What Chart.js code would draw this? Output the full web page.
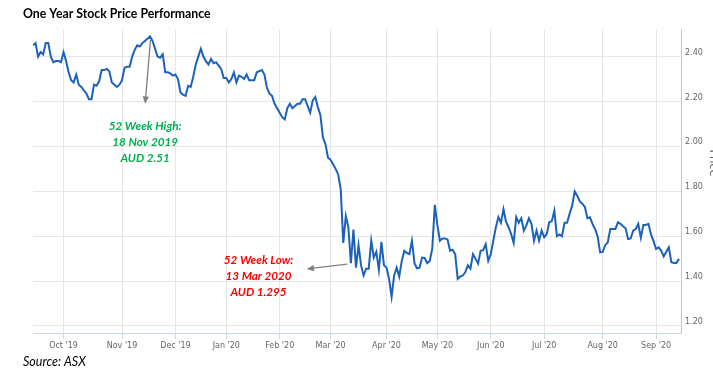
<!DOCTYPE html>
<html lang="en">
<head>
    <meta charset="UTF-8">
    <title>One Year Stock Price Performance</title>
    <script src="https://cdn.jsdelivr.net/npm/chart.js"></script>
    <style>
        body {
            margin: 0;
            background: #ffffff;
        }
        #chart {
            display: block;
        }
    </style>
</head>
<body>
    <canvas id="chart" width="713" height="381"></canvas>

    <script>
        // Daily closing prices (AUD), one per trading day, mid Sep 2019 to mid Sep 2020
        const prices = [
            2.450, 2.460, 2.400, 2.420, 2.410, 2.460, 2.460, 2.400, 2.375, 2.380,
            2.380, 2.375, 2.420, 2.380, 2.330, 2.295, 2.285, 2.320, 2.275, 2.265,
            2.250, 2.235, 2.210, 2.210, 2.275, 2.270, 2.290, 2.340, 2.340, 2.345,
            2.335, 2.285, 2.275, 2.265, 2.275, 2.295, 2.350, 2.355, 2.355, 2.400,
            2.430, 2.450, 2.445, 2.460, 2.470, 2.480, 2.490, 2.470, 2.435, 2.400,
            2.395, 2.410, 2.330, 2.330, 2.325, 2.315, 2.320, 2.300, 2.240, 2.230,
            2.225, 2.270, 2.265, 2.310, 2.365, 2.400, 2.435, 2.400, 2.380, 2.365,
            2.390, 2.370, 2.375, 2.360, 2.345, 2.305, 2.305, 2.285, 2.300, 2.330,
            2.285, 2.315, 2.310, 2.300, 2.320, 2.295, 2.295, 2.295, 2.330, 2.335,
            2.340, 2.320, 2.260, 2.235, 2.225, 2.190, 2.170, 2.150, 2.130, 2.120,
            2.170, 2.190, 2.170, 2.180, 2.190, 2.190, 2.210, 2.210, 2.180, 2.150,
            2.205, 2.220, 2.175, 2.140, 2.040, 2.010, 1.950, 1.940, 1.920, 1.900,
            1.875, 1.810, 1.570, 1.690, 1.640, 1.480, 1.630, 1.460, 1.560, 1.470,
            1.425, 1.455, 1.455, 1.580, 1.505, 1.530, 1.450, 1.575, 1.470, 1.460,
            1.410, 1.330, 1.425, 1.460, 1.420, 1.490, 1.535, 1.525, 1.520, 1.580,
            1.480, 1.457, 1.460, 1.505, 1.503, 1.480, 1.490, 1.545, 1.740, 1.650,
            1.580, 1.590, 1.590, 1.585, 1.535, 1.540, 1.520, 1.410, 1.420, 1.425,
            1.440, 1.470, 1.455, 1.520, 1.500, 1.478, 1.535, 1.538, 1.565, 1.490,
            1.520, 1.580, 1.640, 1.685, 1.660, 1.720, 1.665, 1.640, 1.610, 1.570,
            1.685, 1.660, 1.680, 1.625, 1.648, 1.680, 1.655, 1.580, 1.625, 1.580,
            1.625, 1.595, 1.610, 1.662, 1.667, 1.714, 1.600, 1.608, 1.600, 1.660,
            1.660, 1.700, 1.736, 1.800, 1.780, 1.755, 1.745, 1.730, 1.680, 1.684,
            1.655, 1.632, 1.600, 1.528, 1.530, 1.560, 1.572, 1.632, 1.632, 1.632,
            1.662, 1.655, 1.644, 1.635, 1.587, 1.590, 1.625, 1.632, 1.655, 1.593,
            1.650, 1.650, 1.655, 1.608, 1.578, 1.543, 1.550, 1.536, 1.510, 1.531,
            1.550, 1.484, 1.481, 1.481, 1.499
        ];

        // First trading day of each month (index into prices) and its label
        const monthIndex = [12, 35, 56, 76, 97, 117, 139, 159, 180, 201, 224, 245];
        const monthLabels = ["Oct '19", "Nov '19", "Dec '19", "Jan '20", "Feb '20", "Mar '20",
                             "Apr '20", "May '20", "Jun '20", "Jul '20", "Aug '20", "Sep '20"];

        const priceTicks = [1.2, 1.4, 1.6, 1.8, 2.0, 2.2, 2.4];

        // Annotation anchors, in (trading day, price) units
        const highNote = { lines: ["52 Week High:", "18 Nov 2019", "AUD 2.51"], x: 44.1, y: 2.092, color: "#00b050",
                           from: { x: 46.2, y: 2.475 }, to: { x: 44.1, y: 2.19 } };
        const lowNote = { lines: ["52 Week Low:", "13 Mar 2020", "AUD 1.295"], x: 88.7, y: 1.491, color: "#ff0000",
                          from: { x: 123.6, y: 1.476 }, to: { x: 107.6, y: 1.454 } };

        function drawArrow(ctx, x1, y1, x2, y2) {
            const ang = Math.atan2(y2 - y1, x2 - x1);
            const head = 8;
            ctx.strokeStyle = "#808080";
            ctx.fillStyle = "#808080";
            ctx.lineWidth = 1.3;
            ctx.beginPath();
            ctx.moveTo(x1, y1);
            ctx.lineTo(x2 - Math.cos(ang) * head * 0.8, y2 - Math.sin(ang) * head * 0.8);
            ctx.stroke();
            ctx.beginPath();
            ctx.moveTo(x2, y2);
            ctx.lineTo(x2 - head * Math.cos(ang - 0.4), y2 - head * Math.sin(ang - 0.4));
            ctx.lineTo(x2 - head * Math.cos(ang + 0.4), y2 - head * Math.sin(ang + 0.4));
            ctx.closePath();
            ctx.fill();
        }

        const extras = {
            id: 'extras',
            afterDraw(chart) {
                const ctx = chart.ctx;
                const xs = chart.scales.x;
                const ys = chart.scales.y;
                ctx.save();

                // title and source
                ctx.fillStyle = "#000000";
                ctx.textBaseline = "middle";
                ctx.textAlign = "left";
                ctx.font = "bold 12.3px Lato";
                ctx.fillText("One Year Stock Price Performance", 23, 14);
                ctx.font = "italic 12.5px Lato";
                ctx.fillText("Source: ASX", 23, 362);

                // notes
                [highNote, lowNote].forEach(n => {
                    drawArrow(ctx, xs.getPixelForValue(n.from.x), ys.getPixelForValue(n.from.y),
                              xs.getPixelForValue(n.to.x), ys.getPixelForValue(n.to.y));
                    ctx.fillStyle = n.color;
                    ctx.font = "italic bold 11.7px Lato";
                    ctx.textAlign = "center";
                    ctx.textBaseline = "middle";
                    const cx = xs.getPixelForValue(n.x);
                    const cy = ys.getPixelForValue(n.y);
                    n.lines.forEach((t, k) => ctx.fillText(t, cx, cy + k * 16));
                });

                // axis title, cut by the right edge
                ctx.translate(709.5, 163);
                ctx.rotate(Math.PI / 2);
                ctx.fillStyle = "#666666";
                ctx.font = "11px 'DejaVu Sans'";
                ctx.textAlign = "center";
                ctx.textBaseline = "alphabetic";
                ctx.fillText("Price", 0, 0);
                ctx.restore();
            }
        };

        new Chart(document.getElementById("chart"), {
            type: 'line',
            data: {
                datasets: [{
                    data: prices.map((p, i) => ({ x: i, y: p })),
                    borderColor: '#1c62b9',
                    borderWidth: 2,
                    pointRadius: 0,
                    tension: 0,
                    fill: false
                }]
            },
            options: {
                responsive: false,
                animation: false,
                devicePixelRatio: 1,
                layout: { padding: { left: 33, top: 29, right: 0, bottom: 0 } },
                plugins: {
                    legend: { display: false },
                    tooltip: { enabled: false }
                },
                scales: {
                    x: {
                        type: 'linear',
                        min: 0,
                        max: 254.8,
                        afterBuildTicks: scale => { scale.ticks = monthIndex.map(v => ({ value: v })); },
                        afterFit: scale => { scale.height = 48; },
                        grid: { color: '#e6e6e6', tickLength: 6, tickColor: '#ccd6eb' },
                        border: { color: '#ccd6eb' },
                        ticks: {
                            autoSkip: false,
                            maxRotation: 0,
                            padding: 2,
                            color: '#666666',
                            font: { family: 'DejaVu Sans', size: 8 },
                            callback: v => monthLabels[monthIndex.indexOf(v)]
                        }
                    },
                    y: {
                        position: 'right',
                        min: 1.1688,
                        max: 2.5229,
                        afterBuildTicks: scale => { scale.ticks = priceTicks.map(v => ({ value: v })); },
                        afterFit: scale => { scale.width = 32; },
                        grid: { color: '#e6e6e6', drawTicks: false },
                        border: { color: '#b6c8e6' },
                        ticks: {
                            padding: 4,
                            labelOffset: -4,
                            color: '#666666',
                            font: { family: 'DejaVu Sans', size: 8 },
                            callback: v => v.toFixed(2)
                        }
                    }
                }
            },
            plugins: [extras]
        });
    </script>
</body>
</html>
